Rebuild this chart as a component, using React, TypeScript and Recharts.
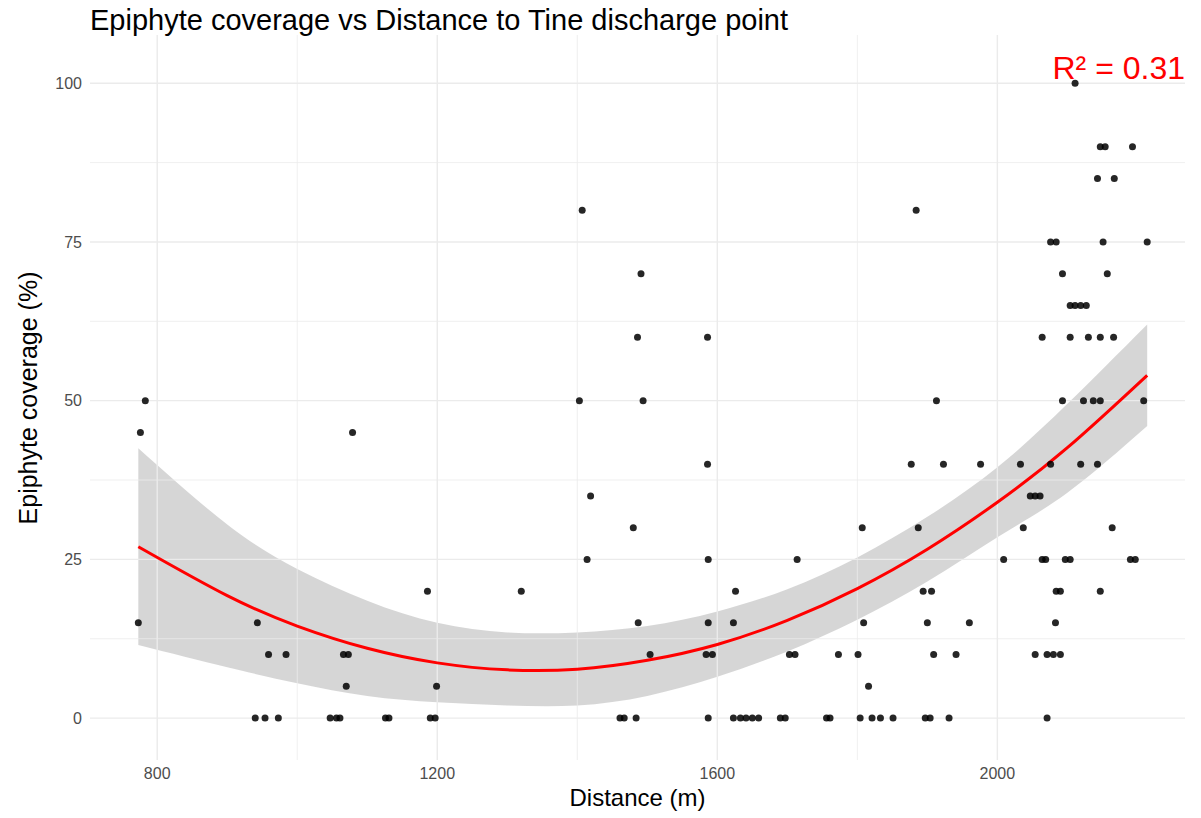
import {
  Area,
  ComposedChart,
  Line,
  ReferenceLine,
  Scatter,
  XAxis,
  YAxis,
} from "recharts";

// observed sites: distance (m) and epiphyte coverage (%)
const distances = [
  773, 776, 783, 940, 943, 954, 959, 973, 984, 1047, 1056, 1061, 1066, 1073, 1070, 1079, 1126, 1131,
  1186, 1190, 1197, 1199, 1320, 1403, 1407, 1414, 1419, 1461, 1467, 1480, 1484, 1486, 1487, 1491,
  1494, 1504, 1586, 1586, 1587, 1587, 1584, 1593, 1587, 1626, 1623, 1623, 1633, 1641, 1650, 1659,
  1690, 1697, 1703, 1711, 1714, 1756, 1761, 1773, 1801, 1804, 1807, 1809, 1816, 1821, 1833, 1851,
  1884, 1877, 1887, 1894, 1897, 1904, 1900, 1906, 1909, 1913, 1923, 1931, 1941, 1960, 1976, 2009,
  2033, 2037, 2047, 2054, 2061, 2054, 2064, 2069, 2064, 2071, 2071, 2080, 2076, 2076, 2084, 2083,
  2084, 2090, 2090, 2093, 2093, 2097, 2104, 2104, 2111, 2119, 2127, 2104, 2111, 2119, 2123, 2137,
  2147, 2130, 2147, 2143, 2147, 2154, 2143, 2147, 2151, 2157, 2164, 2167, 2166, 2190, 2197, 2193,
  2209, 2214,
];
const coverage = [
  15, 45, 50, 0, 15, 0, 10, 0, 10, 0, 0, 0, 10, 10, 5, 45, 0, 0,
  20, 0, 0, 5, 20, 50, 80, 25, 35, 0, 0, 30, 0, 60, 15, 70,
  50, 10, 60, 40, 25, 15, 10, 10, 0, 20, 15, 0, 0, 0, 0, 0,
  0, 0, 10, 10, 25, 0, 0, 10, 10, 0, 30, 15, 5, 0, 0, 0,
  80, 40, 30, 20, 0, 0, 15, 20, 10, 50, 40, 0, 10, 15, 40, 25,
  40, 30, 35, 35, 35, 10, 25, 25, 60, 0, 10, 10, 40, 75, 75, 15,
  20, 20, 10, 50, 70, 25, 25, 65, 65, 65, 65, 60, 100, 40, 50, 50,
  50, 60, 60, 85, 90, 90, 40, 20, 75, 70, 30, 85, 60, 25, 25, 90,
  50, 75,
];

// quadratic fit with 95% band
const fitX = [773, 900, 1000, 1100, 1200, 1300, 1400, 1500, 1600, 1700, 1800, 1900, 2000, 2100, 2214];
const fitY = [27, 19.3, 14.5, 11, 8.7, 7.6, 7.7, 9.1, 11.6, 15.4, 20.4, 26.6, 34, 42.6, 54];
const fitLo = [11.5, 8, 5.5, 3.5, 2.5, 2, 2, 3.5, 6.5, 10.5, 15.5, 21.5, 28.5, 35.5, 46];
const fitHi = [42.5, 30.5, 23.5, 18.5, 15, 13.5, 13.5, 14.5, 16.8, 20.3, 25.3, 31.7, 39.5, 49.5, 62];

const xTicks = [800, 1200, 1600, 2000];
const yTicks = [0, 25, 50, 75, 100];
const xMinor = [1000, 1400, 1800];
const yMinor = [12.5, 37.5, 62.5, 87.5];

const points = distances.map((d, i) => ({ d, c: coverage[i] }));
const fit = fitX.map((d, i) => ({ d, fit: fitY[i], band: [fitLo[i], fitHi[i]] }));

const tick = { fontSize: 16, fill: "#4d4d4d", fontFamily: "Liberation Sans, Arial, sans-serif" };
const grid = "#ebebeb";

export default function App() {
  return (
    <div
      style={{
        position: "absolute",
        left: 0,
        top: 0,
        width: 1201,
        height: 818,
        background: "#fff",
        fontFamily: "Liberation Sans, Arial, sans-serif",
      }}
    >
      <ComposedChart
        width={1201}
        height={818}
        data={fit}
        margin={{ top: 35, right: 16, left: 0, bottom: 0 }}
      >
        {xMinor.map((x) => (
          <ReferenceLine key={"xm" + x} x={x} stroke={grid} strokeWidth={0.8} />
        ))}
        {yMinor.map((y) => (
          <ReferenceLine key={"ym" + y} y={y} stroke={grid} strokeWidth={0.8} />
        ))}
        {xTicks.map((x) => (
          <ReferenceLine key={"x" + x} x={x} stroke={grid} strokeWidth={1.4} />
        ))}
        {yTicks.map((y) => (
          <ReferenceLine key={"y" + y} y={y} stroke={grid} strokeWidth={1.4} />
        ))}
        <XAxis
          dataKey="d"
          type="number"
          domain={[704, 2268]}
          ticks={xTicks}
          axisLine={false}
          tickLine={false}
          tick={tick}
          height={58}
          allowDataOverflow
        />
        <YAxis
          type="number"
          domain={[-6.6, 107.6]}
          ticks={yTicks}
          axisLine={false}
          tickLine={false}
          tick={tick}
          width={90}
          allowDataOverflow
        />
        <Area
          dataKey="band"
          type="natural"
          fill="#999999"
          fillOpacity={0.4}
          stroke="none"
          isAnimationActive={false}
        />
        <Scatter data={points} dataKey="c" fill="#000" isAnimationActive={false}
          shape={(p: any) => <circle cx={p.cx} cy={p.cy} r={3.5} fill="#000" fillOpacity={0.85} />}
        />
        <Line
          dataKey="fit"
          type="natural"
          stroke="#ff0000"
          strokeWidth={3}
          dot={false}
          isAnimationActive={false}
        />
      </ComposedChart>
      <div style={{ position: "absolute", left: 90, top: 4, fontSize: 29, color: "#000" }}>
        Epiphyte coverage vs Distance to Tine discharge point
      </div>
      <div style={{ position: "absolute", right: 16, top: 50, fontSize: 32, color: "#ff0000" }}>
        R² = 0.31
      </div>
      <div
        style={{ position: "absolute", left: 90, width: 1095, top: 784, textAlign: "center", fontSize: 24 }}
      >
        Distance (m)
      </div>
      <div
        style={{
          position: "absolute",
          left: 28,
          top: 398,
          fontSize: 25,
          transform: "translate(-50%, -50%) rotate(-90deg)",
          whiteSpace: "nowrap",
        }}
      >
        Epiphyte coverage (%)
      </div>
    </div>
  );
}
